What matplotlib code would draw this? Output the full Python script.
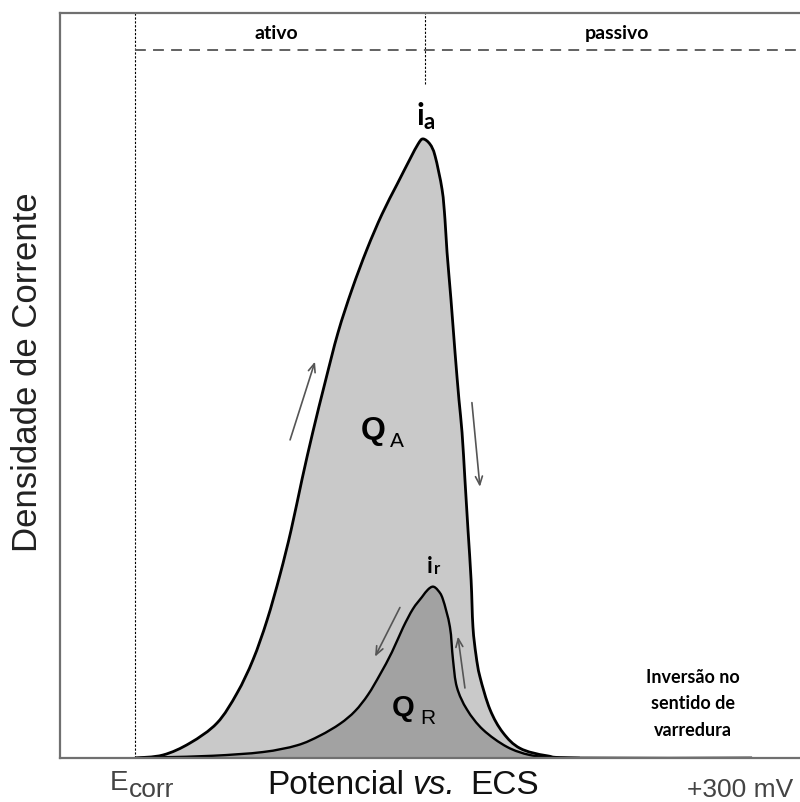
import matplotlib
matplotlib.use('Agg')
import matplotlib.pyplot as plt
import numpy as np
from matplotlib.path import Path
from matplotlib.patches import PathPatch

# forward (anodic) scan, potential in mV vs Ecorr, current density in arbitrary units
fwd_E = [0.0, 13.6, 26.7, 39.9, 49.6, 57.4, 64.2, 70.5, 75.9, 81.2, 86.5, 92.4, 98.7,
         105.5, 112.8, 120.1, 127.4, 133.7, 137.6, 140.0,
         143.4, 145.9, 149.3, 150.7, 151.7, 153.6, 155.6, 157.5, 159.0, 160.4, 161.9,
         163.4, 164.3, 165.8, 167.7, 172.6, 178.9, 187.2, 200.3, 216.3, 300.0]
fwd_i = [0.0, 0.4, 2.0, 4.7, 8.7, 13.2, 18.5, 24.6, 30.6, 37.4, 43.8, 50.4, 57.1,
         62.9, 68.3, 73.0, 77.0, 80.4, 82.4, 83.1,
         82.4, 80.8, 76.3, 72.3, 67.9, 61.6, 54.4, 48.1, 43.7, 37.4, 30.6,
         23.9, 17.6, 13.8, 10.9, 6.5, 3.4, 1.3, 0.3, 0.0, 0.0]

# reverse (reactivation) scan
rev_E = [0.0, 13.6, 37.9, 62.2, 78.8, 89.9, 99.7, 107.0, 113.3, 119.1, 124.9, 130.3,
         135.1, 139.5, 142.4, 144.9, 147.3, 149.7, 153.1, 154.6, 156.5, 161.4, 169.2,
         180.8, 192.0, 203.2, 216.3]
rev_i = [0.0, 0.1, 0.3, 0.8, 1.7, 3.0, 4.6, 6.3, 8.5, 11.2, 14.2, 17.5,
         20.0, 21.6, 22.6, 23.0, 22.5, 21.3, 17.6, 13.2, 9.5, 6.5, 3.8,
         1.5, 0.4, 0.1, 0.0]

region_labels = ['ativo', 'passivo']
E_peak = 141.0


def smooth_path(xs, ys, close=False):
    # cubic bezier segments passing through every read point (catmull-rom tangents)
    p = np.column_stack([xs, ys]).astype(float)
    n = len(p)
    verts = [p[0]]
    codes = [Path.MOVETO]
    for k in range(n - 1):
        p0 = p[max(k - 1, 0)]
        p1, p2 = p[k], p[k + 1]
        p3 = p[min(k + 2, n - 1)]
        verts += [p1 + (p2 - p0) / 6, p2 - (p3 - p1) / 6, p2]
        codes += [Path.CURVE4] * 3
    if close:
        verts += [(xs[-1], 0), (xs[0], 0), (xs[0], 0)]
        codes += [Path.LINETO, Path.LINETO, Path.CLOSEPOLY]
    return Path(verts, codes)


W, H = 800, 803
fig = plt.figure(figsize=(W / 100, H / 100), dpi=100)
ax = fig.add_axes([59.5 / W, 1 - 759 / H, 1 - 59.5 / W, (759 - 14) / H])
ax.set_xlim(-36.7, 323.3)
ax.set_ylim(0, 100)
ax.set_xticks([])
ax.set_yticks([])
for s in ['left', 'top', 'bottom']:
    ax.spines[s].set_color('#707070')
    ax.spines[s].set_linewidth(1.6)
ax.spines['right'].set_visible(False)

ax.add_patch(PathPatch(smooth_path(fwd_E, fwd_i, True), fc='#c9c9c9', ec='none'))
ax.add_patch(PathPatch(smooth_path(rev_E, rev_i, True), fc='#a2a2a2', ec='none'))
ax.add_patch(PathPatch(smooth_path(rev_E, rev_i), fc='none', ec='black', lw=1.7))
ax.add_patch(PathPatch(smooth_path(fwd_E, fwd_i), fc='none', ec='black', lw=2.0))

# region markers
ax.axvline(0, color='black', lw=0.8, ls=(0, (2, 1.5)))
ax.plot([E_peak, E_peak], [90.5, 100], color='black', lw=0.8, ls=(0, (2, 1.5)))
ax.plot([0, 323.3], [95.0, 95.0], color='#555555', lw=1.3, ls=(0, (6, 4)))

lato = ['Lato', 'DejaVu Sans']
arial = ['Liberation Sans', 'DejaVu Sans']
ax.text(68.5, 97.4, region_labels[0], ha='center', va='center', fontsize=14,
        fontweight='bold', family=lato)
ax.text(234.3, 97.4, region_labels[1], ha='center', va='center', fontsize=14,
        fontweight='bold', family=lato)

# peak labels
ax.text(138.6, 85.1, 'i', ha='center', va='baseline', fontsize=22, fontweight='bold', family=lato)
ax.text(140.5, 84.6, 'a', ha='left', va='baseline', fontsize=16, fontweight='bold', family=lato)
ax.text(143.4, 25.0, 'i', ha='center', va='baseline', fontsize=16, fontweight='bold', family=lato)
ax.text(145.4, 24.8, 'r', ha='left', va='baseline', fontsize=12, fontweight='bold', family=lato)

# charges
ax.text(115.7, 44.0, 'Q', ha='center', va='center', fontsize=23, fontweight='bold', family=arial)
ax.text(127.4, 42.6, 'A', ha='center', va='center', fontsize=15, family=arial)
ax.text(130.3, 6.8, 'Q', ha='center', va='center', fontsize=21, fontweight='bold', family=arial)
ax.text(142.4, 5.5, 'R', ha='center', va='center', fontsize=15, family=arial)

ax.text(271.3, 7.4, 'Inversão no\nsentido de\nvarredura', ha='center', va='center',
        fontsize=13, fontweight='bold', family=lato, linespacing=1.7)

# scan direction arrows
arrows = [((75.4, 42.7), (87.5, 53.2)),
          ((163.8, 47.7), (167.7, 36.4)),
          ((128.8, 20.2), (116.7, 13.6)),
          ((160.4, 9.4), (157.0, 16.3))]
for tail, head in arrows:
    ax.annotate('', xy=head, xytext=tail,
                arrowprops=dict(arrowstyle='->,head_length=0.6,head_width=0.25',
                                color='#555555', lw=1.2, shrinkA=0, shrinkB=0))

# axis labels
fig.text(28 / W, 1 - 372 / H, 'Densidade de Corrente', rotation=90, ha='center',
         va='center', fontsize=25, family=arial, color='#222222')
fig.text(267 / W, 1 - 801 / H, 'Potencial', ha='left', va='bottom', fontsize=24,
         family=arial, color='#111111')
fig.text(412 / W, 1 - 801 / H, 'vs.', ha='left', va='bottom', fontsize=24,
         family=arial, style='italic', color='#111111')
fig.text(470 / W, 1 - 801 / H, 'ECS', ha='left', va='bottom', fontsize=24,
         family=arial, color='#111111')
fig.text(110 / W, 1 - 790 / H, 'E', ha='left', va='baseline', fontsize=20,
         family=arial, color='#444444')
fig.text(129 / W, 1 - 802 / H, 'corr', ha='left', va='bottom', fontsize=19,
         family=arial, color='#444444')
fig.text(687 / W, 1 - 802 / H, '+300 mV', ha='left', va='bottom', fontsize=19,
         family=arial, color='#444444')

fig.savefig('out.png', dpi=100)
